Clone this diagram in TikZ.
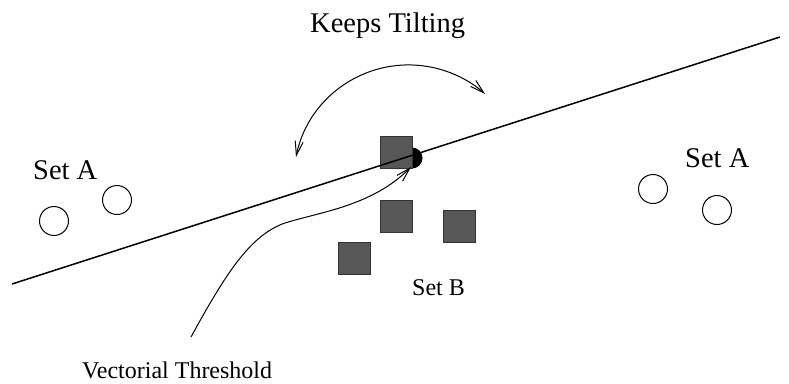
\documentclass[tikz,border=0pt]{standalone}
\usepackage{fontspec}
\setmainfont{Liberation Serif}
\usetikzlibrary{arrows.meta}

\definecolor{pointfill}{HTML}{575757}

\tikzset{
  setpoint/.style={circle, draw=black, line width=1pt, minimum size=29pt, inner sep=0pt},
  setsquare/.style={rectangle, draw=black!80, fill=pointfill, line width=1pt, minimum size=32pt, inner sep=0pt},
  bigtext/.style={anchor=base west, inner sep=0pt, font=\fontsize{28.5}{30}\selectfont},
  smalltext/.style={anchor=base west, inner sep=0pt, font=\fontsize{24}{26}\selectfont},
  barbtip/.tip={Straight Barb[length=14pt, width=8pt, line width=1pt]},
  barb/.style={-barbtip},
  double barb/.style={barbtip-barbtip},
  thin curve/.style={line width=1pt},
}

\begin{document}
\begin{tikzpicture}[x=1pt, y=-1pt]
  \useasboundingbox (0,0) rectangle (789,383);

  % Set A, left group
  \node[bigtext] (setAleft) at (33,179) {Set A};
  \node[setpoint] (a1) at (54,221) {};
  \node[setpoint] (a2) at (117,200) {};

  % Set A, right group
  \node[bigtext] (setAright) at (685,167) {Set A};
  \node[setpoint] (a3) at (653,189) {};
  \node[setpoint] (a4) at (717,210) {};

  % pivot point of the separating line
  \node[circle, fill=black, minimum size=21pt, inner sep=0pt] (pivot) at (412,158) {};

  % Set B
  \node[setsquare] (b1) at (396,152) {};
  \node[setsquare] (b2) at (396,216) {};
  \node[setsquare] (b3) at (459,226) {};
  \node[setsquare] (b4) at (354,258) {};
  \node[smalltext] (setB) at (412,295) {Set B};

  % separating line
  \coordinate (lineL) at (12,284);
  \coordinate (lineR) at (780,37);
  \draw[line width=1.5pt] (lineL) -- (lineR);

  % tilting motion
  \node[bigtext] (tilt) at (310,32) {Keeps Tilting};
  \coordinate (tiltL) at (296,157);
  \draw[thin curve, double barb]
    (tiltL) arc[start angle=-168.5, end angle=-48.4, radius=115];

  % threshold label and pointer
  \node[smalltext] (thr) at (82,378) {Vectorial Threshold};
  \coordinate (thrStart) at (191,337);
  \coordinate (thrEnd) at (411,167);
  \draw[thin curve, barb] (thrStart) .. controls (225,275) and (250,235) .. (285,223)
    .. controls (320,212) and (372,206) .. (thrEnd);
\end{tikzpicture}
\end{document}
